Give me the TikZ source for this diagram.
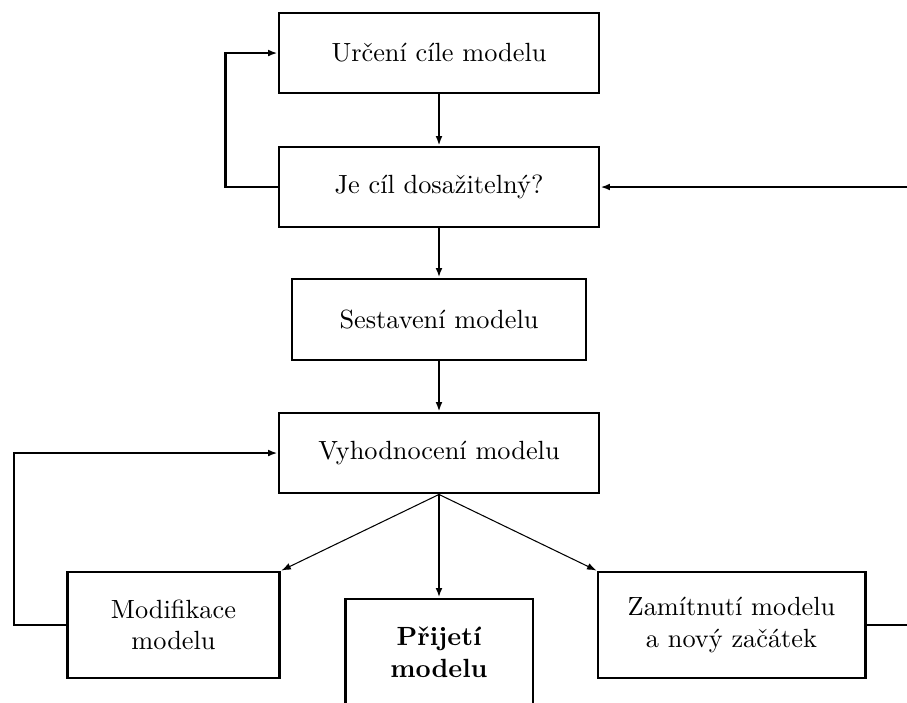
\documentclass[tikz,border=0pt]{standalone}
\usepackage{tikz}
\usetikzlibrary{arrows.meta}

\tikzset{
  box/.style={draw, line width=1.1pt, align=center, inner sep=2pt},
  bigbox/.style={box, minimum width=121.6pt, minimum height=30.4pt},
  endbox/.style={box, minimum height=40.3pt},
  link/.style={line width=1.1pt},
  arrow/.style={link, -{Latex[length=3.6pt,width=2.6pt]}},
  sidearrow/.style={line width=0.4pt, -{Latex[length=3.6pt,width=2.6pt]}}
}

\begin{document}
\begin{tikzpicture}[x=0.38pt,y=0.38pt,yscale=-1,xscale=1]
\clip (0,0) rectangle (907,702); %picture frame

%Boxes
\node [bigbox] (urceni) at (439,53) {Určení cíle modelu};
\node [bigbox] (dosazitelny) at (439,187) {Je cíl dosažitelný?};
\node [box, minimum width=111.7pt, minimum height=30.8pt] (sestaveni) at (439,319.5) {Sestavení modelu};
\node [bigbox] (vyhodnoceni) at (439,453) {Vyhodnocení modelu};
\node [endbox, minimum width=80.9pt] (modifikace) at (173.5,625) {Modifikace\\modelu};
\node [endbox, minimum width=71.4pt] (prijeti) at (439,652) {\textbf{Přijetí}\\\textbf{modelu}};
\node [endbox, minimum width=101.5pt] (zamitnuti) at (731.5,625) {Zamítnutí modelu\\a nový začátek};

%free ends at the right border
\coordinate (vstup) at (907,187);
\coordinate (vystup) at (907,625);
\coordinate (levy) at (14,625);

%Main line
\draw [arrow] (urceni) -- (dosazitelny);
\draw [arrow] (dosazitelny) -- (sestaveni);
\draw [arrow] (sestaveni) -- (vyhodnoceni);
\draw [arrow] (vyhodnoceni.south) -- (prijeti.north);

%Loops
\draw [arrow] (dosazitelny.west) -- ++(-52,0) |- (urceni.west);
\draw [arrow] (modifikace.west) -- (levy) |- (vyhodnoceni.west);
\draw [arrow] (vstup) -- (dosazitelny.east);
\draw [link] (zamitnuti.east) -- (vystup);

%Thin branches
\draw [sidearrow] (vyhodnoceni.south) -- (modifikace.north east);
\draw [sidearrow] (vyhodnoceni.south) -- (zamitnuti.north west);

\end{tikzpicture}
\end{document}
